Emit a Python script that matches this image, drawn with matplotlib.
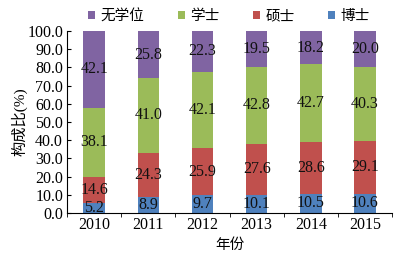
import numpy as np
import matplotlib
matplotlib.use('Agg')
import matplotlib.pyplot as plt
from matplotlib.ticker import MultipleLocator, FixedLocator

plt.rcParams['font.family'] = ['Liberation Serif', 'Noto Sans CJK SC']

years = ['2010', '2011', '2012', '2013', '2014', '2015']
boshi = [5.2, 8.9, 9.7, 10.1, 10.5, 10.6]
shuoshi = [14.6, 24.3, 25.9, 27.6, 28.6, 29.1]
xueshi = [38.1, 41.0, 42.1, 42.8, 42.7, 40.3]
wuxuewei = [42.1, 25.8, 22.3, 19.5, 18.2, 20.0]

series = [('博士', boshi, '#4F81BD'),
          ('硕士', shuoshi, '#C0504D'),
          ('学士', xueshi, '#9BBB59'),
          ('无学位', wuxuewei, '#8064A2')]

fig = plt.figure(figsize=(4.0, 2.59), dpi=100)
ax = fig.add_axes([0.168, 0.178, 0.812, 0.702])

x = np.arange(len(years))
bottom = np.zeros(len(years))
handles = {}
for name, vals, col in series:
    vals = np.array(vals)
    b = ax.bar(x, vals, 0.40, bottom=bottom, color=col, label=name)
    handles[name] = b
    for xi, v, bt in zip(x, vals, bottom):
        ax.text(xi, bt + v / 2, '%.1f' % v, ha='center', va='center',
                fontsize=11.5, color='#111111')
    bottom += vals

ax.set_xlim(-0.5, len(years) - 0.5)
ax.set_ylim(0, 100)
ax.yaxis.set_major_locator(MultipleLocator(10))
ax.yaxis.set_major_formatter(matplotlib.ticker.FormatStrFormatter('%.1f'))
ax.set_xticks(x)
ax.set_xticklabels(years)
ax.xaxis.set_minor_locator(FixedLocator(np.arange(-0.5, len(years), 1.0)))
ax.tick_params(axis='x', which='major', length=0, labelsize=11.5, pad=3)
ax.tick_params(axis='x', which='minor', length=3, direction='out')
ax.tick_params(axis='y', direction='in', length=3, labelsize=11.5, pad=3)
for s in ['top', 'right']:
    ax.spines[s].set_visible(False)
for s in ['left', 'bottom']:
    ax.spines[s].set_linewidth(0.8)

ax.set_ylabel('构成比(%)', fontsize=11, labelpad=0)
ax.set_xlabel('年份', fontsize=10.5, labelpad=4)

order = ['无学位', '学士', '硕士', '博士']
fig.legend([handles[n] for n in order], order, loc='upper center',
           bbox_to_anchor=(0.572, 1.015), ncol=4, frameon=False, fontsize=10.5,
           handlelength=0.5, handleheight=0.5, handletextpad=0.35,
           columnspacing=2.3)

fig.savefig('out.png', dpi=100)
